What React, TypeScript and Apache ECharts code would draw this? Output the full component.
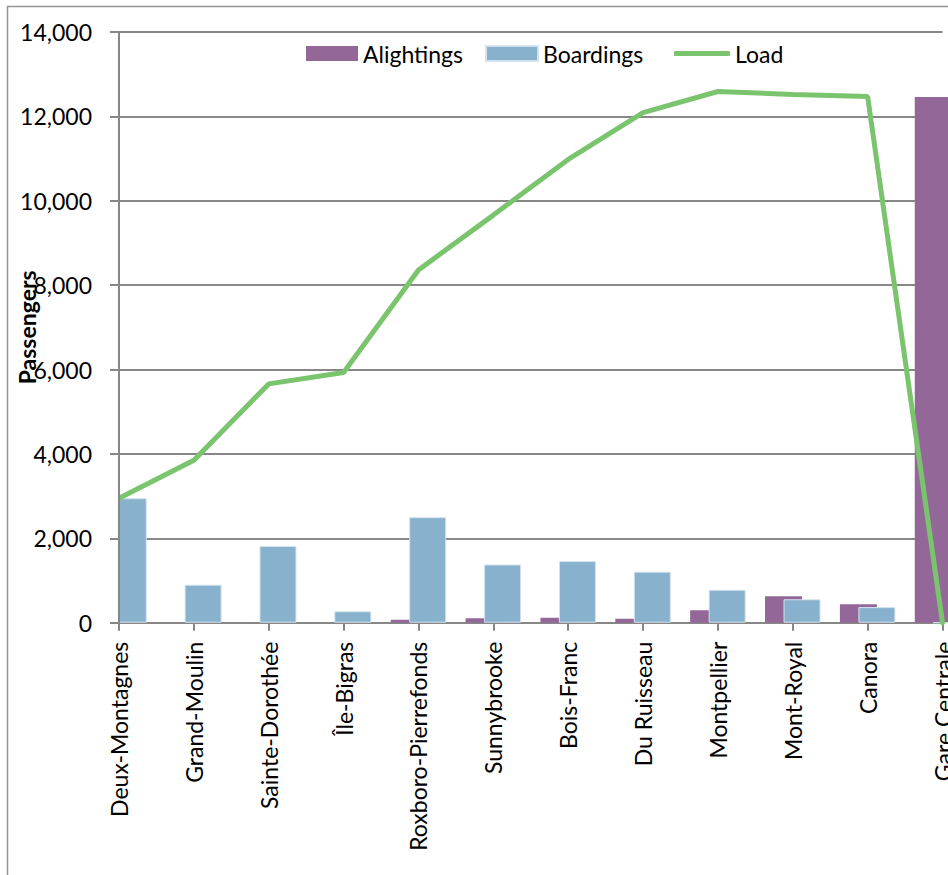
import React, { useEffect, useRef } from "react";
import * as echarts from "echarts";

// Deux-Montagnes line, westbound to downtown: passengers per station
const stations = [
  "Deux-Montagnes",
  "Grand-Moulin",
  "Sainte-Dorothée",
  "Île-Bigras",
  "Roxboro-Pierrefonds",
  "Sunnybrooke",
  "Bois-Franc",
  "Du Ruisseau",
  "Montpellier",
  "Mont-Royal",
  "Canora",
  "Gare Centrale",
];

const alightings = [0, 0, 0, 0, 70, 105, 120, 95, 295, 626, 437, 12460];
const boardings = [2950, 900, 1820, 270, 2500, 1380, 1460, 1210, 780, 555, 370, 0];
const load = [2950, 3850, 5660, 5930, 8360, 9660, 10980, 12090, 12590, 12520, 12470, 0];

const yTicks = { min: 0, max: 14000, interval: 2000 };

const FONT = "Lato, 'Liberation Sans', sans-serif";
const PURPLE = "#936899";
const BLUE = "#87b1cc";
const GREEN = "#7bc46e";
const AXIS_GRAY = "#878787";

const GRID = { left: 119, right: 5.5, top: 32, bottom: 252.3 };
const WIDTH = 948;
const HEIGHT = 875;

const legendText = { fontFamily: FONT, fontSize: 23, color: "#000" };

export default function App() {
  const ref = useRef<HTMLDivElement>(null);

  useEffect(() => {
    if (!ref.current) return;
    const chart = echarts.init(ref.current, undefined, { renderer: "svg" });
    const axisBottom = HEIGHT - GRID.bottom;
    chart.setOption({
      animation: false,
      backgroundColor: "#ffffff",
      textStyle: { fontFamily: FONT, color: "#000" },
      graphic: [
        {
          // chart-area frame
          type: "rect",
          silent: true,
          shape: { x: 7.5, y: 6.5, width: 1400, height: 1400 },
          style: { fill: "none", stroke: "#959595", lineWidth: 1.5 },
          z: -10,
        },
        {
          // keeps the first station's bar inside the plot area
          type: "rect",
          silent: true,
          shape: { x: GRID.left - 24, y: GRID.top, width: 24, height: axisBottom - GRID.top + 1 },
          style: { fill: "#ffffff" },
          z: 5,
        },
      ],
      legend: [
        {
          top: 42,
          left: 306,
          padding: 0,
          itemGap: 22,
          itemWidth: 52,
          itemHeight: 15,
          textStyle: legendText,
          data: [
            { name: "Alightings", icon: "rect" },
            { name: "Boardings", icon: "rect" },
          ],
        },
        {
          top: 42,
          left: 674,
          padding: 0,
          itemWidth: 56,
          itemHeight: 5,
          textStyle: legendText,
          data: [{ name: "Load", icon: "roundRect" }],
        },
      ],
      grid: {
        ...GRID,
        containLabel: false,
        outerBoundsMode: "none",
      },
      xAxis: {
        type: "category",
        data: stations,
        boundaryGap: false,
        axisLine: { show: true, lineStyle: { color: AXIS_GRAY, width: 2 } },
        axisTick: { show: true, length: 8, lineStyle: { color: AXIS_GRAY, width: 2 } },
        axisLabel: {
          rotate: 90,
          margin: 19,
          interval: 0,
          fontSize: 23,
          fontFamily: FONT,
          color: "#000",
        },
        splitLine: { show: false },
      },
      yAxis: [
        {
          type: "value",
          min: yTicks.min,
          max: yTicks.max,
          interval: yTicks.interval,
          name: "Passengers",
          nameLocation: "middle",
          nameGap: 81,
          nameMoveOverlap: false,
          nameTextStyle: { fontFamily: FONT, fontSize: 23, fontWeight: "bold", color: "#000" },
          axisLine: { show: false },
          axisTick: { show: false },
          axisLabel: {
            margin: 27,
            fontSize: 23,
            fontFamily: FONT,
            color: "#000",
            formatter: (v: number) => v.toLocaleString("en-US"),
          },
          splitLine: { show: true, lineStyle: { color: AXIS_GRAY, width: 1.8 } },
        },
        {
          // axis line and ticks, drawn above the bars
          type: "value",
          position: "left",
          min: yTicks.min,
          max: yTicks.max,
          interval: yTicks.interval,
          z: 10,
          axisLine: { show: true, lineStyle: { color: AXIS_GRAY, width: 2 } },
          axisTick: { show: true, length: 9, lineStyle: { color: AXIS_GRAY, width: 2 } },
          axisLabel: { show: false },
          splitLine: { show: false },
        },
      ],
      series: [
        {
          name: "Alightings",
          type: "bar",
          data: alightings,
          barWidth: 37,
          barGap: "-50%",
          clip: false,
          itemStyle: { color: PURPLE },
          z: 2,
        },
        {
          name: "Boardings",
          type: "bar",
          data: boardings,
          barWidth: 37,
          barGap: "-50%",
          itemStyle: { color: BLUE, borderColor: "#d3e3ee", borderWidth: 1 },
          z: 3,
        },
        {
          name: "Load",
          type: "line",
          data: load,
          symbol: "none",
          showSymbol: false,
          lineStyle: { color: GREEN, width: 5, cap: "round" },
          itemStyle: { color: GREEN },
          z: 4,
        },
      ],
    });
    return () => chart.dispose();
  }, []);

  return (
    <div
      ref={ref}
      style={{ position: "fixed", left: 0, top: 0, width: WIDTH, height: HEIGHT }}
    />
  );
}
